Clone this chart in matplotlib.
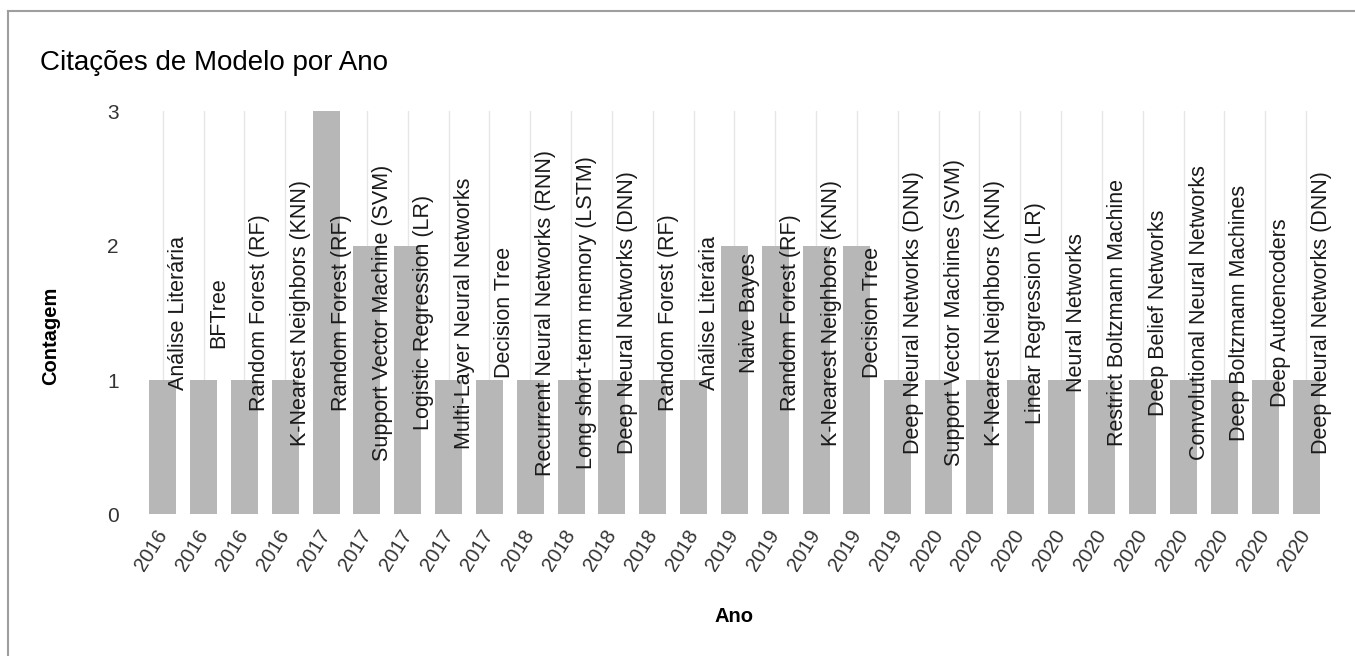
import matplotlib

matplotlib.use("Agg")
import matplotlib.pyplot as plt
from matplotlib.lines import Line2D

plt.rcParams["font.family"] = ["Liberation Sans", "DejaVu Sans"]

# --- data ---
years = [
    "2016", "2016", "2016", "2016",
    "2017", "2017", "2017", "2017", "2017",
    "2018", "2018", "2018", "2018", "2018",
    "2019", "2019", "2019", "2019", "2019",
    "2020", "2020", "2020", "2020", "2020",
    "2020", "2020", "2020", "2020", "2020",
]
models = [
    "Análise Literária", "BFTree", "Random Forest (RF)", "K-Nearest Neighbors (KNN)",
    "Random Forest (RF)", "Support Vector Machine (SVM)", "Logistic Regression (LR)",
    "Multi-Layer Neural Networks", "Decision Tree",
    "Recurrent Neural Networks (RNN)", "Long short-term memory (LSTM)",
    "Deep Neural Networks (DNN)", "Random Forest (RF)", "Análise Literária",
    "Naive Bayes", "Random Forest (RF)", "K-Nearest Neighbors (KNN)", "Decision Tree",
    "Deep Neural Networks (DNN)",
    "Support Vector Machines (SVM)", "K-Nearest Neighbors (KNN)", "Linear Regression (LR)",
    "Neural Networks", "Restrict Boltzmann Machine", "Deep Belief Networks",
    "Convolutional Neural Networks", "Deep Boltzmann Machines", "Deep Autoencoders",
    "Deep Neural Networks (DNN)",
]
counts = [1, 1, 1, 1, 3, 2, 2, 1, 1, 1, 1, 1, 1, 1, 2, 2, 2, 2, 1,
          1, 1, 1, 1, 1, 1, 1, 1, 1, 1]
y_ticks = [0, 1, 2, 3]

W, H = 1355, 656
fig = plt.figure(figsize=(W / 100, H / 100), dpi=100)
ax = fig.add_axes([142.3 / W, 1 - 514.3 / H, (1326.5 - 142.3) / W, (514.3 - 111.4) / H])

x = list(range(len(counts)))
ax.bar(x, counts, width=0.66, color="#b7b7b7", zorder=2)

# model name labels, centred at mid height, just right of each bar
for i, name in enumerate(models):
    ax.text(i + 0.38, 1.5, name, rotation=90, ha="center", va="center",
            fontsize=15.5, color="#1a1a1a", zorder=3)

ax.set_xlim(-0.5, len(counts) - 0.5)
ax.set_ylim(0, 3)
ax.set_xticks(x)
ax.set_xticklabels(years, rotation=58, ha="right", va="center",
                   rotation_mode="anchor", fontsize=14.5, color="#333333")
ax.set_yticks(y_ticks)
ax.set_yticklabels([str(v) for v in y_ticks], fontsize=15, color="#333333")
ax.tick_params(axis="both", length=0)
ax.tick_params(axis="x", pad=12)
ax.tick_params(axis="y", pad=17)
ax.xaxis.grid(True, color="#e6e6e6", linewidth=1, zorder=0)
ax.set_axisbelow(True)
for s in ax.spines.values():
    s.set_visible(False)

fig.text(40 / W, 1 - 70 / H, "Citações de Modelo por Ano", fontsize=20,
         ha="left", va="baseline", color="#000000")
fig.text(51 / W, 1 - 336 / H, "Contagem", rotation=90, ha="center", va="center",
         fontsize=14.5, fontweight="bold")
fig.text(734 / W, 1 - 617 / H, "Ano", ha="center", va="center",
         fontsize=14.5, fontweight="bold")

# frame of the chart box (top and left edges only)
fig.add_artist(Line2D([8 / W, 1], [1 - 11 / H, 1 - 11 / H], color="#9e9e9e", linewidth=1.5))
fig.add_artist(Line2D([8 / W, 8 / W], [1 - 11 / H, 0], color="#9e9e9e", linewidth=1.5))

fig.savefig("out.png", dpi=100)
